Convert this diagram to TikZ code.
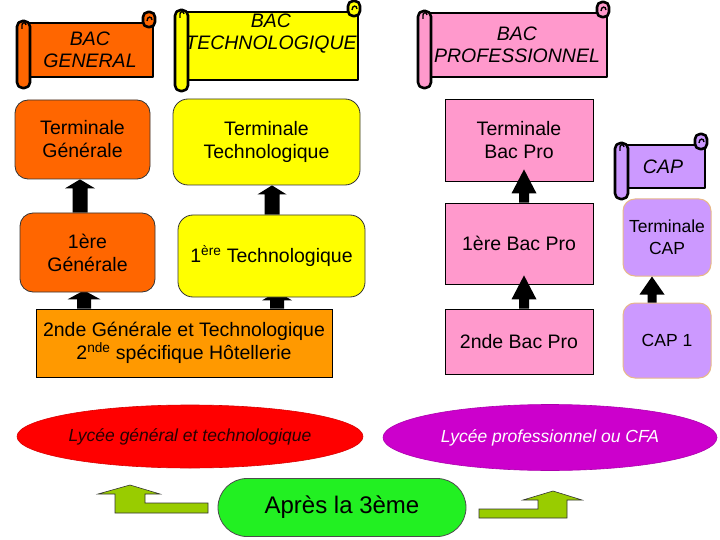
\documentclass[tikz,border=0pt]{standalone}
\usepackage{fontspec}
\setmainfont{Liberation Sans}
\usetikzlibrary{shapes.geometric,backgrounds,calc}
\definecolor{cOrange}{HTML}{FF6600}
\definecolor{cYellow}{HTML}{FFFF00}
\definecolor{cPink}{HTML}{FF99CC}
\definecolor{cLilac}{HTML}{CC99FF}
\definecolor{cSecond}{HTML}{FF9900}
\definecolor{cRed}{HTML}{FF0000}
\definecolor{cMag}{HTML}{CC00CC}
\definecolor{cGreen}{HTML}{22F022}
\definecolor{cOlive}{HTML}{99CC00}
\definecolor{cTan}{HTML}{E8B888}
\newcommand\scrollshape[5]{%
  \filldraw[scrl, fill=#5] (#1,#2) rectangle (#3,#4);
  \filldraw[scrl, fill=#5, rounded corners=5.5pt] ({#1-11},{#2-2}) rectangle ({#1+2},{#4+11});
  \filldraw[scrl, fill=#5, rounded corners=5pt] ({#3-10},{#2-11}) rectangle ({#3+2},{#2+4});
  \draw[line width=1.4pt] ({#1-6},{#2+6}) -- ({#1-6},{#2+2}) .. controls ({#1-6},{#2-1}) and ({#1-2},{#2-1}) .. ({#1-2},{#2+2});
  \draw[line width=1.4pt] ({#3-6},{#2-2}) .. controls ({#3-6},{#2-7}) and ({#3-1},{#2-7}) .. ({#3-1},{#2-3});
}
\newcommand\blockup[5]{%
  \fill[black] ($(#1)+(-#3,0)$) -- ($(#2)+(-#3,#5)$) -- ($(#2)+(-#4,#5)$) -- (#2)
    -- ($(#2)+(#4,#5)$) -- ($(#2)+(#3,#5)$) -- ($(#1)+(#3,0)$) -- cycle;
}
\begin{document}
\begin{tikzpicture}[x=1pt,y=-1pt,
  scrl/.style={draw=black, line width=2.6pt, line join=round},
  stxt/.style={font=\fontsize{19.5}{22}\selectfont\itshape, align=center, inner sep=0pt},
  txt/.style={font=\fontsize{19.5}{23}\selectfont, align=center, inner sep=0pt},
  rbox/.style={txt, draw=black!80, line width=0.8pt, rounded corners=13pt},
  sbox/.style={txt, draw=black, line width=0.8pt},
  cbox/.style={txt, font=\fontsize{17.5}{22}\selectfont, draw=cTan, line width=1pt, rounded corners=12pt},
  ell/.style={ellipse, inner sep=0pt, font=\fontsize{17.5}{20}\selectfont\itshape},
  bent/.style={fill=cOlive, draw=black!80, line width=0.6pt, line join=miter}]
\useasboundingbox (0,0) rectangle (720,540);
\begin{pgfonlayer}{background}
  \fill[white] (0,0) rectangle (720,540);
\end{pgfonlayer}

% scrolls
\scrollshape{28}{23}{153}{77}{cOrange}
\node[stxt] (sgen) at (90,50) {BAC\\GENERAL};
\scrollshape{186}{12}{358}{80}{cYellow}
\node[stxt] (stech) at (271,34) {BAC\\TECHNOLOGIQUE};
\scrollshape{429}{13}{607}{77}{cPink}
\node[stxt] (spro) at (517,45) {BAC\\PROFESSIONNEL};
\scrollshape{626}{145}{705}{188}{cLilac}
\node[stxt] (scap) at (663,167) {CAP};

% boxes
\node[rbox, fill=cOrange, minimum width=135pt, minimum height=79pt] (tg) at (82.5,139.5) {Terminale\\Générale};
\node[rbox, fill=cYellow, minimum width=187pt, minimum height=86pt, rounded corners=15pt] (tt) at (266.5,142) {Terminale\\Technologique};
\node[rbox, fill=cOrange, minimum width=135pt, minimum height=79pt] (g1) at (87.5,252.5) {1ère\\Générale};
\node[rbox, fill=cYellow, minimum width=187pt, minimum height=82pt, rounded corners=15pt] (t1) at (271.5,256) {1\textsuperscript{ère} Technologique};
\node[sbox, fill=cSecond, minimum width=296pt, minimum height=68pt] (s2) at (184,343) {2nde Générale et Technologique\\2\textsuperscript{nde} spécifique Hôtellerie};
\node[sbox, fill=cPink, minimum width=148pt, minimum height=82pt] (tbp) at (519,140) {Terminale\\Bac Pro};
\node[sbox, fill=cPink, minimum width=148pt, minimum height=81pt] (bp1) at (519,243.5) {1ère Bac Pro};
\node[sbox, fill=cPink, minimum width=148pt, minimum height=65pt] (bp2) at (519,341.5) {2nde Bac Pro};
\node[cbox, fill=cLilac, minimum width=88pt, minimum height=77pt] (tcap) at (667,237.5) {Terminale\\CAP};
\node[cbox, fill=cLilac, minimum width=88pt, minimum height=75pt] (cap1) at (667,340.5) {CAP 1};

% ellipses and start
\node[ell, fill=cRed, draw=cRed!85!black, line width=0.6pt, minimum width=346pt, minimum height=63pt, text={rgb,255:red,40;green,0;blue,0}] (lgt) at (190,436.5) {Lycée général et technologique};
\node[ell, fill=cMag, draw=cMag!85!black, line width=0.6pt, minimum width=334pt, minimum height=66pt, text=white] (lp) at (550,437.5) {Lycée professionnel ou CFA};
\node[fill=cGreen, draw=black!70, line width=0.8pt, rounded corners=29pt, minimum width=248pt, minimum height=58pt, inner sep=0pt, font=\fontsize{24}{26}\selectfont] (apres) at (342,507.5) {Après la 3ème};

% arrow anchors
\coordinate (xa) at (80,0);
\coordinate (xb) at (272,0);
\coordinate (xc) at (84,0);
\coordinate (xd) at (277,0);
\coordinate (xp) at (524,0);
\coordinate (xq) at (652,0);

\coordinate (a1s) at (g1.north -| xa);  \coordinate (a1e) at (tg.south -| xa);
\coordinate (a2s) at (t1.north -| xb);  \coordinate (a2e) at (tt.south -| xb);
\coordinate (a3s) at (s2.north -| xc);  \coordinate (a3e) at ($(g1.south -| xc)+(0,-2)$);
\coordinate (a4s) at (s2.north -| xd);  \coordinate (a4e) at ($(t1.south -| xd)+(0,-6)$);
\coordinate (a5s) at (bp1.north -| xp); \coordinate (a5e) at ($(tbp.south -| xp)+(0,-12)$);
\coordinate (a6s) at (bp2.north -| xp); \coordinate (a6e) at ($(bp1.south -| xp)+(0,-9)$);
\coordinate (a7s) at (cap1.north -| xq); \coordinate (a7e) at (tcap.south -| xq);

\begin{pgfonlayer}{background}
  \blockup{a1s}{a1e}{7.5}{15}{9}
  \blockup{a2s}{a2e}{7.5}{14.5}{9}
  \blockup{a3s}{a3e}{7}{16.5}{9}
  \blockup{a4s}{a4e}{7}{15}{9}
\end{pgfonlayer}
\blockup{a5s}{a5e}{5}{12.5}{24}
\blockup{a6s}{a6e}{5}{12.5}{24}
\blockup{a7s}{a7e}{4.5}{12.5}{18}

% bent arrows
\filldraw[bent] (208,513) -- (208,503) -- (145,503) -- (145,494) -- (160,494) -- (130,485) -- (98,494) -- (115,494) -- (115,513) -- cycle;
\filldraw[bent] (479,509) -- (538,509) -- (538,500) -- (523,500) -- (553,491) -- (582,500) -- (567,500) -- (567,518) -- (479,518) -- cycle;
\end{tikzpicture}
\end{document}
